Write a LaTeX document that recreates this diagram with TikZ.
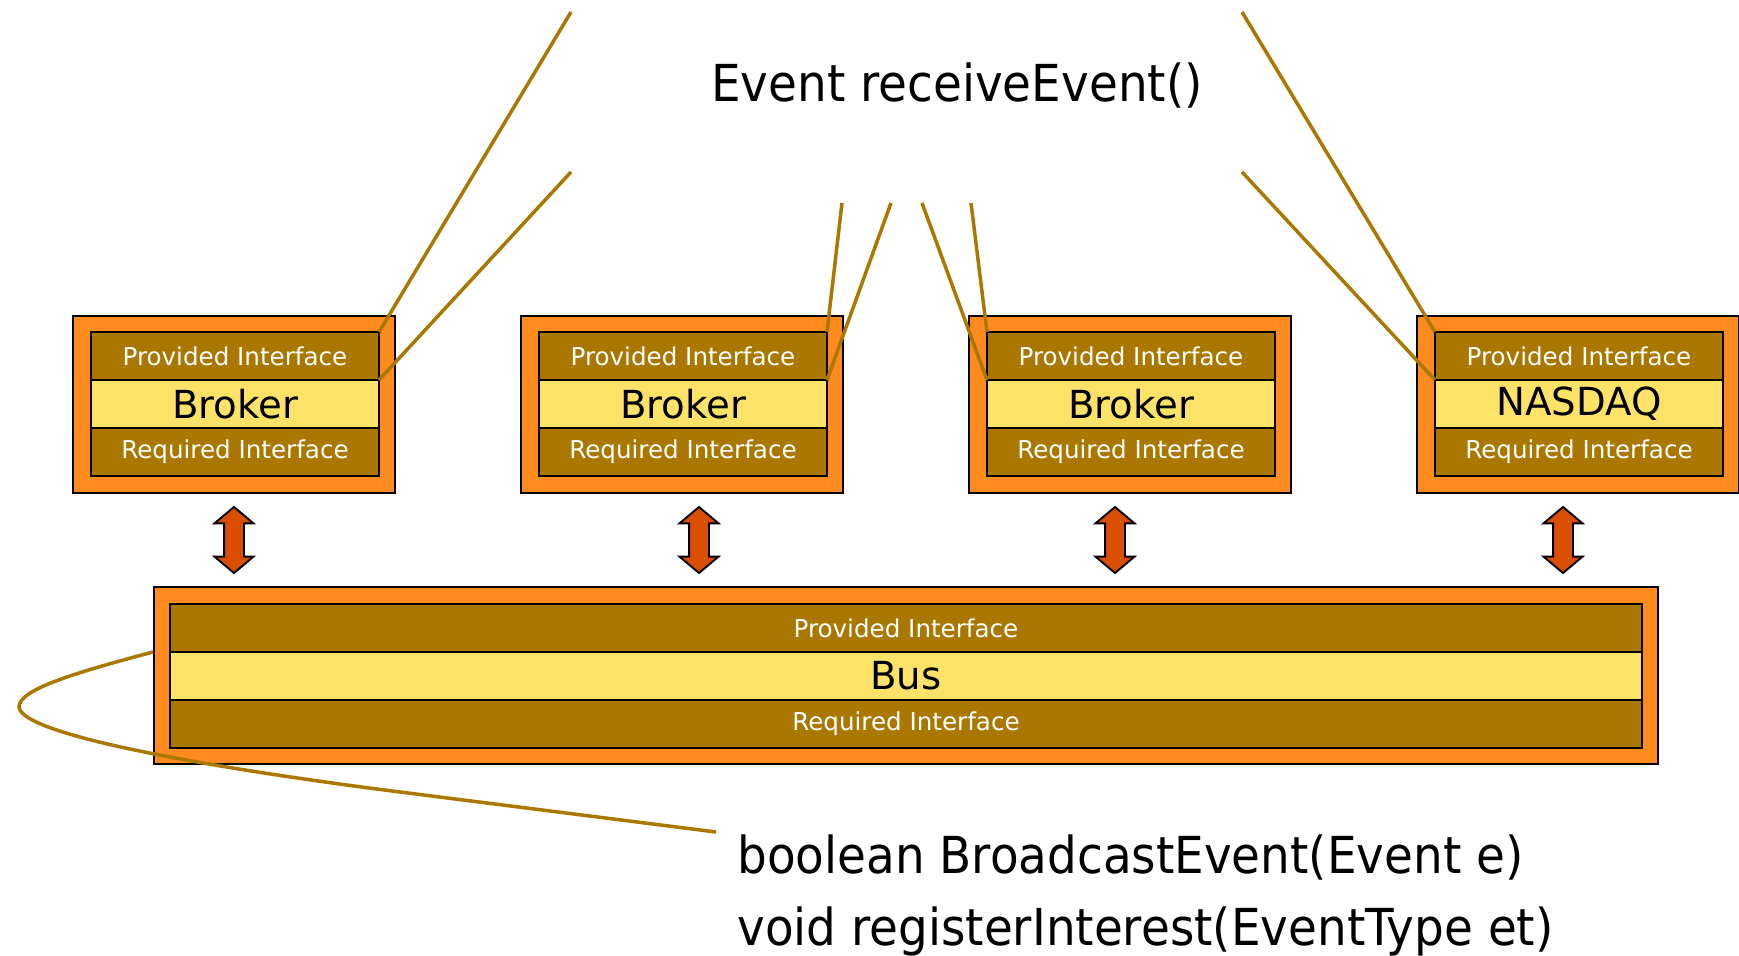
\documentclass[tikz,border=0pt]{standalone}
\usepackage{fontspec}
\setmainfont{DejaVu Sans}
\newfontfamily\callfont{DejaVu Sans}[FakeStretch=0.92]
\usetikzlibrary{positioning,shapes.arrows}

\definecolor{boxorange}{HTML}{FF8A1E}
\definecolor{ifacebrown}{HTML}{AA7800}
\definecolor{coreyellow}{HTML}{FCE266}
\definecolor{arrowred}{HTML}{D94E00}

\newcommand\pxu{0.02cm}

\tikzset{
  outerbox/.style={draw=black, fill=boxorange, line width=1.1pt, inner sep=0pt,
    minimum width=322*\pxu, minimum height=177*\pxu},
  iface/.style={draw=black, fill=ifacebrown, line width=1.6pt, inner sep=0pt,
    outer sep=0pt, minimum width=288*\pxu, minimum height=48*\pxu, text=white,
    font=\fontsize{14}{16}\selectfont},
  core/.style={iface, fill=coreyellow, text=black, font=\fontsize{22}{24}\selectfont},
  callout/.style={draw=ifacebrown, line width=2pt},
  bidir/.style={double arrow, draw=black, fill=arrowred, line width=1.1pt, rotate=90,
    inner xsep=0pt, inner ysep=9*\pxu, minimum height=66*\pxu, minimum width=37*\pxu,
    double arrow head extend=9.5*\pxu, double arrow tip angle=100},
  calltext/.style={font=\callfont\fontsize{29}{34}\selectfont, inner sep=0pt},
}

\begin{document}
\begin{tikzpicture}[x=\pxu, y=-\pxu]
  \useasboundingbox (0,0) rectangle (1739,956);

  % components
  \node[outerbox] (box1) at (234,404.5) {};
  \node[iface] (prov1) at (235,356) {Provided Interface};
  \node[core, below=0pt of prov1] (core1) {Broker};
  \node[iface, below=0pt of core1] (req1) {Required Interface};

  \node[outerbox] (box2) at (682,404.5) {};
  \node[iface] (prov2) at (683,356) {Provided Interface};
  \node[core, below=0pt of prov2] (core2) {Broker};
  \node[iface, below=0pt of core2] (req2) {Required Interface};

  \node[outerbox] (box3) at (1130,404.5) {};
  \node[iface] (prov3) at (1131,356) {Provided Interface};
  \node[core, below=0pt of prov3] (core3) {Broker};
  \node[iface, below=0pt of core3] (req3) {Required Interface};

  \node[outerbox] (box4) at (1578,404.5) {};
  \node[iface] (prov4) at (1579,356) {Provided Interface};
  \node[core, below=0pt of prov4] (core4) {NASDAQ};
  \node[iface, below=0pt of core4] (req4) {Required Interface};

  % bus
  \node[outerbox, minimum width=1504*\pxu] (busbox) at (906,675.5) {};
  \node[iface, minimum width=1472*\pxu] (provbus) at (906,628) {Provided Interface};
  \node[core, minimum width=1472*\pxu, below=0pt of provbus] (corebus) {Bus};
  \node[iface, minimum width=1472*\pxu, below=0pt of corebus] (reqbus) {Required Interface};

  % links to the bus
  \node[bidir] (link1) at (234,540) {};
  \node[bidir] (link2) at (699,540) {};
  \node[bidir] (link3) at (1115,540) {};
  \node[bidir] (link4) at (1563,540) {};

  % texts
  \node[calltext, anchor=base] (recv) at (957,102) {Event receiveEvent()};
  \node[calltext, anchor=base west] (bcast) at (737,873) {boolean BroadcastEvent(Event e)};
  \node[calltext, anchor=base west] (reg) at (737,945) {void registerInterest(EventType et)};

  % callouts
  \coordinate (r1a) at (571,12);
  \coordinate (r1b) at (571,172);
  \coordinate (r2a) at (842,203);
  \coordinate (r2b) at (891,203);
  \coordinate (r3a) at (922,203);
  \coordinate (r3b) at (971,203);
  \coordinate (r4a) at (1242,12);
  \coordinate (r4b) at (1242,172);
  \coordinate (bend) at (716,832);
  \draw[callout] (r1a) -- (prov1.north east);
  \draw[callout] (r1b) -- (prov1.south east);
  \draw[callout] (r2a) -- (prov2.north east);
  \draw[callout] (r2b) -- (prov2.south east);
  \draw[callout] (r3a) -- (prov3.south west);
  \draw[callout] (r3b) -- (prov3.north west);
  \draw[callout] (r4a) -- (prov4.north west);
  \draw[callout] (r4b) -- (prov4.south west);
  \draw[callout] (busbox.west |- provbus.south) .. controls (70,674) and (19,690) .. (19,707)
    .. controls (22,738) and (250,773) .. (400,792) -- (bend);
\end{tikzpicture}
\end{document}
